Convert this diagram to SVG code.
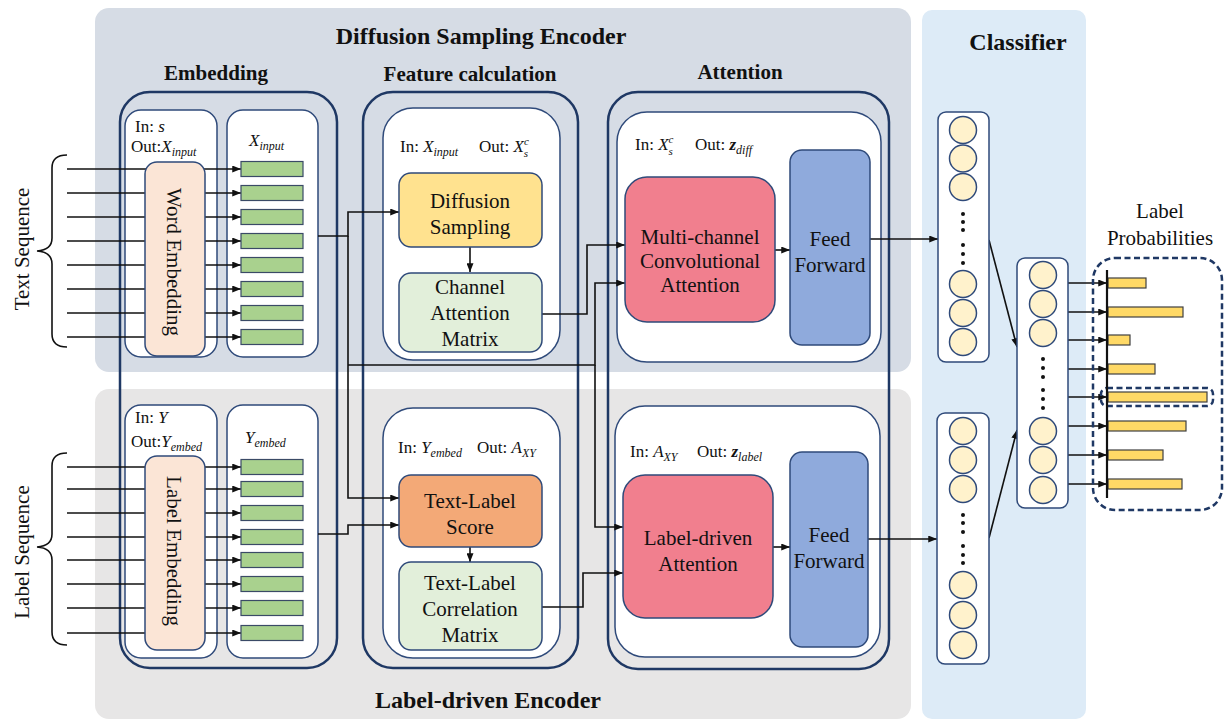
<svg xmlns="http://www.w3.org/2000/svg" width="1225" height="721" viewBox="0 0 1225 721">
  <style>
    text { font-family: "Liberation Serif", "Times New Roman", serif; fill: #111; }
    .title { font-size: 24px; font-weight: bold; text-anchor: middle; }
    .sub { font-size: 21px; font-weight: bold; text-anchor: middle; }
    .lbl { font-size: 21px; text-anchor: middle; }
    .io { font-size: 17px; }
    .outer { fill: none; stroke: #1F3864; stroke-width: 2.5; }
    .inner { fill: #fff; stroke: #2F4A7A; stroke-width: 1.5; }
    .box { stroke: #2F4A7A; stroke-width: 1.5; }
    .peach { fill: #FBE5D6; }
    .yellow { fill: #FFE28F; }
    .lgreen { fill: #E2EFDA; }
    .orange { fill: #F3A977; }
    .pink { fill: #F17F8E; }
    .blue { fill: #8FAADC; }
    .bar { fill: #A9D18E; stroke: #3A4A66; stroke-width: 1.2; }
    .ybar { fill: #FFD966; stroke: #404040; stroke-width: 1.2; }
    .node { fill: #FFF2CC; stroke: #2F4A7A; stroke-width: 1.5; }
    .col { fill: #fff; stroke: #2F4A7A; stroke-width: 1.5; }
    .dot { fill: #111; }
    .wire { fill: none; stroke: #111; stroke-width: 1.6; }
    .arr { fill: none; stroke: #111; stroke-width: 1.6; marker-end: url(#ah); }
    .dash { fill: none; stroke: #1F3864; stroke-width: 2.5; stroke-dasharray: 6 3.5; }
    .it { font-style: italic; }
  </style>
  <defs>
    <marker id="ah" viewBox="0 0 10 8" refX="10" refY="4" markerWidth="9" markerHeight="7" markerUnits="userSpaceOnUse" orient="auto">
      <path d="M0,0 L10,4 L0,8 z" fill="#111"/>
    </marker>
  </defs>

  <!-- background panels -->
  <g id="panels">
    <rect x="95" y="8" width="816" height="364" rx="14" fill="#D6DCE5"/>
    <rect x="95" y="389" width="816" height="330" rx="14" fill="#E7E6E6"/>
    <rect x="922" y="10" width="164" height="709" rx="10" fill="#DDEBF7"/>
  </g>

  <!-- titles -->
  <g id="titles">
    <text class="title" x="481" y="44">Diffusion Sampling Encoder</text>
    <text class="title" x="488" y="708">Label-driven Encoder</text>
    <text class="title" x="1018" y="50">Classifier</text>
    <text class="sub" x="216" y="80">Embedding</text>
    <text class="sub" x="470" y="81">Feature calculation</text>
    <text class="sub" x="740" y="79">Attention</text>
  </g>

  <!-- stage containers -->
  <g id="containers">
    <rect class="outer" x="120" y="92" width="217" height="576" rx="30"/>
    <rect class="outer" x="363" y="92" width="215" height="576" rx="30"/>
    <rect class="outer" x="608" y="92" width="281" height="577" rx="30"/>
    <rect class="inner" x="125" y="110" width="92" height="247" rx="16"/>
    <rect class="inner" x="227" y="110" width="91" height="247" rx="16"/>
    <rect class="inner" x="125" y="405" width="92" height="253" rx="16"/>
    <rect class="inner" x="227" y="405" width="91" height="253" rx="16"/>
    <rect class="inner" x="383" y="108" width="177" height="252" rx="30"/>
    <rect class="inner" x="383" y="408" width="177" height="250" rx="30"/>
    <rect class="inner" x="617" y="112" width="264" height="250" rx="30"/>
    <rect class="inner" x="615" y="406" width="265" height="251" rx="30"/>
  </g>

  <!-- input/output annotations -->
  <g id="io-labels">
    <text class="io" x="135" y="132">In: <tspan class="it">s</tspan></text>
    <text class="io" x="131" y="152">Out:<tspan class="it">X</tspan><tspan class="it" font-size="12" dy="4">input</tspan></text>
    <text class="io" x="249" y="146"><tspan class="it">X</tspan><tspan class="it" font-size="12" dy="4">input</tspan></text>
    <text class="io" x="135" y="423">In: <tspan class="it">Y</tspan></text>
    <text class="io" x="131" y="447">Out:<tspan class="it">Y</tspan><tspan class="it" font-size="12" dy="4">embed</tspan></text>
    <text class="io" x="245" y="443"><tspan class="it">Y</tspan><tspan class="it" font-size="12" dy="4">embed</tspan></text>

    <text class="io" x="400" y="152">In: <tspan class="it">X</tspan><tspan class="it" font-size="12" dy="4">input</tspan></text>
    <text class="io" x="479" y="152">Out: <tspan class="it">X</tspan><tspan class="it" font-size="11" dy="-7">c</tspan><tspan class="it" font-size="11" dx="-5" dy="12">s</tspan></text>
    <text class="io" x="398" y="453">In: <tspan class="it">Y</tspan><tspan class="it" font-size="12" dy="4">embed</tspan></text>
    <text class="io" x="477" y="453">Out: <tspan class="it">A</tspan><tspan class="it" font-size="12" dy="4">XY</tspan></text>

    <text class="io" x="635" y="150">In:  <tspan class="it">X</tspan><tspan class="it" font-size="11" dy="-7">c</tspan><tspan class="it" font-size="11" dx="-5" dy="12">s</tspan></text>
    <text class="io" x="695" y="150">Out:  <tspan class="it" font-weight="bold">z</tspan><tspan class="it" font-size="12" dy="4">diff</tspan></text>
    <text class="io" x="630" y="457">In: <tspan class="it">A</tspan><tspan class="it" font-size="12" dy="4">XY</tspan></text>
    <text class="io" x="697" y="457">Out: <tspan class="it" font-weight="bold">z</tspan><tspan class="it" font-size="12" dy="4">label</tspan></text>
  </g>

  <!-- sequence braces -->
  <g id="text-sequence">
    <path class="wire" d="M67 155 Q52 155 52 168 L52 238 Q52 250 37 251 Q52 252 52 264 L52 334 Q52 347 67 347"/>
    <text class="lbl" transform="translate(29,249) rotate(-90)">Text Sequence</text>
  </g>
  <g id="label-sequence">
    <path class="wire" d="M67 453 Q52 453 52 466 L52 534 Q52 546 37 547 Q52 548 52 560 L52 632 Q52 645 67 645"/>
    <text class="lbl" transform="translate(29,552) rotate(-90)">Label Sequence</text>
  </g>

  <!-- connectors -->
  <g id="connectors">
    <!-- token inputs -->
    <line class="arr" x1="67" y1="169" x2="241" y2="169"/>
    <line class="arr" x1="67" y1="193" x2="241" y2="193"/>
    <line class="arr" x1="67" y1="217" x2="241" y2="217"/>
    <line class="arr" x1="67" y1="241" x2="241" y2="241"/>
    <line class="arr" x1="67" y1="265" x2="241" y2="265"/>
    <line class="arr" x1="67" y1="289" x2="241" y2="289"/>
    <line class="arr" x1="67" y1="313" x2="241" y2="313"/>
    <line class="arr" x1="67" y1="337" x2="241" y2="337"/>
    <line class="arr" x1="67" y1="467" x2="241" y2="467"/>
    <line class="arr" x1="67" y1="489" x2="241" y2="489"/>
    <line class="arr" x1="67" y1="513" x2="241" y2="513"/>
    <line class="arr" x1="67" y1="537" x2="241" y2="537"/>
    <line class="arr" x1="67" y1="560" x2="241" y2="560"/>
    <line class="arr" x1="67" y1="584" x2="241" y2="584"/>
    <line class="arr" x1="67" y1="608" x2="241" y2="608"/>
    <line class="arr" x1="67" y1="633" x2="241" y2="633"/>

    <!-- X_input fan-out -->
    <path class="arr" d="M318 236 H348 V212 H399"/>
    <path class="arr" d="M348 236 V498 H399"/>
    <path class="arr" d="M348 365 H595 V283 H625"/>
    <path class="arr" d="M595 365 V527 H623"/>
    <!-- Y_embed to score -->
    <path class="arr" d="M318 534 H348 V525 H399"/>
    <!-- feature blocks to attention -->
    <path class="arr" d="M542 314 H587 V245 H625"/>
    <path class="arr" d="M542 607 H583 V573 H623"/>
    <!-- internal steps -->
    <line class="arr" x1="470" y1="247" x2="470" y2="272"/>
    <line class="arr" x1="470" y1="547" x2="470" y2="562"/>
    <line class="arr" x1="775" y1="250" x2="790" y2="250"/>
    <line class="arr" x1="773" y1="547" x2="790" y2="547"/>
    <!-- attention to classifier -->
    <line class="arr" x1="870" y1="239" x2="938" y2="239"/>
    <line class="arr" x1="868" y1="539" x2="937" y2="539"/>
    <line class="arr" x1="989" y1="240" x2="1017" y2="347"/>
    <line class="arr" x1="989" y1="538" x2="1017" y2="430"/>
    <!-- classifier outputs -->
    <line class="arr" x1="1068" y1="283" x2="1107" y2="283"/>
    <line class="arr" x1="1068" y1="312" x2="1107" y2="312"/>
    <line class="arr" x1="1068" y1="340" x2="1107" y2="340"/>
    <line class="arr" x1="1068" y1="369" x2="1107" y2="369"/>
    <line class="arr" x1="1068" y1="397" x2="1107" y2="397"/>
    <line class="arr" x1="1068" y1="426" x2="1107" y2="426"/>
    <line class="arr" x1="1068" y1="455" x2="1107" y2="455"/>
    <line class="arr" x1="1068" y1="484" x2="1107" y2="484"/>
  </g>

  <!-- embedding nodes -->
  <g id="word-embedding">
    <rect class="box peach" x="145" y="162" width="60" height="194" rx="12"/>
    <text class="lbl" transform="translate(167,262) rotate(90)">Word Embedding</text>
  </g>
  <g id="x-input-vectors">
    <rect class="bar" x="241" y="161.5" width="62" height="15"/>
    <rect class="bar" x="241" y="185.5" width="62" height="15"/>
    <rect class="bar" x="241" y="209.5" width="62" height="15"/>
    <rect class="bar" x="241" y="233.5" width="62" height="15"/>
    <rect class="bar" x="241" y="257.5" width="62" height="15"/>
    <rect class="bar" x="241" y="281.5" width="62" height="15"/>
    <rect class="bar" x="241" y="305.5" width="62" height="15"/>
    <rect class="bar" x="241" y="329.5" width="62" height="15"/>
  </g>
  <g id="label-embedding">
    <rect class="box peach" x="145" y="456" width="60" height="194" rx="12"/>
    <text class="lbl" transform="translate(167,551) rotate(90)">Label Embedding</text>
  </g>
  <g id="y-embed-vectors">
    <rect class="bar" x="241" y="459.5" width="62" height="15"/>
    <rect class="bar" x="241" y="481.5" width="62" height="15"/>
    <rect class="bar" x="241" y="505.5" width="62" height="15"/>
    <rect class="bar" x="241" y="529.5" width="62" height="15"/>
    <rect class="bar" x="241" y="552.5" width="62" height="15"/>
    <rect class="bar" x="241" y="576.5" width="62" height="15"/>
    <rect class="bar" x="241" y="600.5" width="62" height="15"/>
    <rect class="bar" x="241" y="625.5" width="62" height="15"/>
  </g>

  <!-- feature calculation nodes -->
  <g id="diffusion-sampling">
    <rect class="box yellow" x="399" y="173" width="143" height="74" rx="12"/>
    <text class="lbl" x="470" y="208">Diffusion</text>
    <text class="lbl" x="470" y="234">Sampling</text>
  </g>
  <g id="channel-attention-matrix">
    <rect class="box lgreen" x="399" y="273" width="143" height="79" rx="12"/>
    <text class="lbl" x="470" y="294">Channel</text>
    <text class="lbl" x="470" y="320">Attention</text>
    <text class="lbl" x="470" y="346">Matrix</text>
  </g>
  <g id="text-label-score">
    <rect class="box orange" x="399" y="475" width="143" height="72" rx="12"/>
    <text class="lbl" x="470" y="508">Text-Label</text>
    <text class="lbl" x="470" y="534">Score</text>
  </g>
  <g id="text-label-correlation-matrix">
    <rect class="box lgreen" x="399" y="562" width="143" height="88" rx="12"/>
    <text class="lbl" x="470" y="590">Text-Label</text>
    <text class="lbl" x="470" y="616">Correlation</text>
    <text class="lbl" x="470" y="642">Matrix</text>
  </g>

  <!-- attention nodes -->
  <g id="multi-channel-attention">
    <rect class="box pink" x="625" y="177" width="150" height="145" rx="22"/>
    <text class="lbl" x="700" y="244">Multi-channel</text>
    <text class="lbl" x="700" y="268">Convolutional</text>
    <text class="lbl" x="700" y="292">Attention</text>
  </g>
  <g id="feed-forward-top">
    <rect class="box blue" x="790" y="150" width="80" height="195" rx="12"/>
    <text class="lbl" x="830" y="246">Feed</text>
    <text class="lbl" x="830" y="272">Forward</text>
  </g>
  <g id="label-driven-attention">
    <rect class="box pink" x="623" y="475" width="150" height="143" rx="22"/>
    <text class="lbl" x="698" y="545">Label-driven</text>
    <text class="lbl" x="698" y="571">Attention</text>
  </g>
  <g id="feed-forward-bottom">
    <rect class="box blue" x="790" y="452" width="78" height="195" rx="12"/>
    <text class="lbl" x="829" y="542">Feed</text>
    <text class="lbl" x="829" y="568">Forward</text>
  </g>

  <!-- classifier layers -->
  <g id="z-diff-layer">
    <rect class="col" x="938" y="112" width="51" height="250" rx="8"/>
    <circle class="node" cx="963" cy="130" r="13.5"/>
    <circle class="node" cx="963" cy="158.5" r="13.5"/>
    <circle class="node" cx="963" cy="187" r="13.5"/>
    <circle class="dot" cx="963" cy="214" r="2"/>
    <circle class="dot" cx="963" cy="222" r="2"/>
    <circle class="dot" cx="963" cy="230" r="2"/>
    <circle class="dot" cx="963" cy="245" r="2"/>
    <circle class="dot" cx="963" cy="254" r="2"/>
    <circle class="dot" cx="963" cy="263" r="2"/>
    <circle class="node" cx="963" cy="284" r="13.5"/>
    <circle class="node" cx="963" cy="313" r="13.5"/>
    <circle class="node" cx="963" cy="342" r="13.5"/>
  </g>
  <g id="z-label-layer">
    <rect class="col" x="937" y="413" width="52" height="251" rx="8"/>
    <circle class="node" cx="963" cy="431" r="13.5"/>
    <circle class="node" cx="963" cy="460" r="13.5"/>
    <circle class="node" cx="963" cy="489" r="13.5"/>
    <circle class="dot" cx="963" cy="515" r="2"/>
    <circle class="dot" cx="963" cy="523" r="2"/>
    <circle class="dot" cx="963" cy="532" r="2"/>
    <circle class="dot" cx="963" cy="546" r="2"/>
    <circle class="dot" cx="963" cy="555" r="2"/>
    <circle class="dot" cx="963" cy="563" r="2"/>
    <circle class="node" cx="963" cy="585" r="13.5"/>
    <circle class="node" cx="963" cy="615" r="13.5"/>
    <circle class="node" cx="963" cy="645" r="13.5"/>
  </g>
  <g id="output-layer">
    <rect class="col" x="1017" y="258" width="51" height="250" rx="8"/>
    <circle class="node" cx="1043" cy="275" r="13.5"/>
    <circle class="node" cx="1043" cy="304" r="13.5"/>
    <circle class="node" cx="1043" cy="333" r="13.5"/>
    <circle class="dot" cx="1043" cy="359" r="2"/>
    <circle class="dot" cx="1043" cy="368" r="2"/>
    <circle class="dot" cx="1043" cy="377" r="2"/>
    <circle class="dot" cx="1043" cy="390" r="2"/>
    <circle class="dot" cx="1043" cy="399" r="2"/>
    <circle class="dot" cx="1043" cy="408" r="2"/>
    <circle class="node" cx="1043" cy="431" r="13.5"/>
    <circle class="node" cx="1043" cy="460" r="13.5"/>
    <circle class="node" cx="1043" cy="490" r="13.5"/>
  </g>

  <!-- label probabilities -->
  <g id="label-probabilities">
    <text class="lbl" x="1160" y="218">Label</text>
    <text class="lbl" x="1160" y="245">Probabilities</text>
    <rect class="dash" x="1093" y="258" width="129" height="252" rx="22"/>
    <rect class="ybar" x="1108" y="278" width="38" height="10"/>
    <rect class="ybar" x="1108" y="307" width="75" height="10"/>
    <rect class="ybar" x="1108" y="335" width="22" height="10"/>
    <rect class="ybar" x="1108" y="364" width="47" height="10"/>
    <rect class="ybar" x="1108" y="392" width="99" height="10"/>
    <rect class="ybar" x="1108" y="421" width="78" height="10"/>
    <rect class="ybar" x="1108" y="450" width="55" height="10"/>
    <rect class="ybar" x="1108" y="479" width="74" height="10"/>
    <rect class="dash" x="1101" y="388" width="112" height="18" rx="6"/>
    <line x1="1107" y1="270" x2="1107" y2="498" stroke="#111" stroke-width="2.2"/>
  </g>
</svg>
